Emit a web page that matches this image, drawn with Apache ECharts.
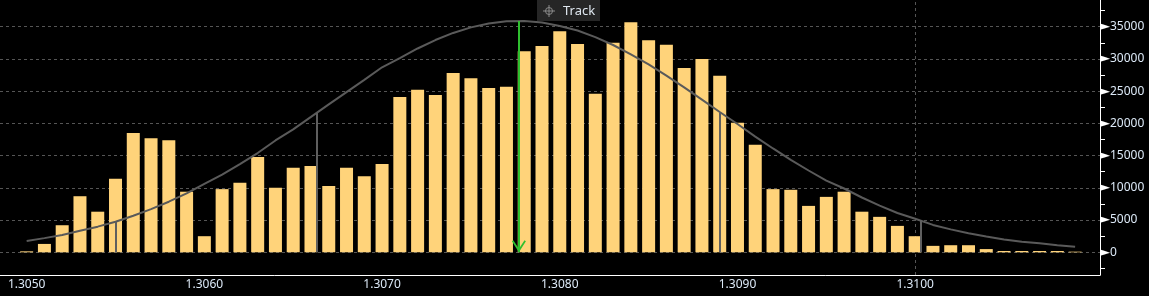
<!DOCTYPE html>
<html>
<head>
<meta charset="utf-8">
<script src="https://cdn.jsdelivr.net/npm/echarts@6/dist/echarts.min.js"></script>
<style>
html,body{margin:0;padding:0;background:#000;}
#chart{width:1149px;height:296px;}
</style>
</head>
<body>
<div id="chart"></div>
<script>
// price levels (bin centers)
var prices = [1.3050,1.3051,1.3052,1.3053,1.3054,1.3055,1.3056,1.3057,1.3058,1.3059,
              1.3060,1.3061,1.3062,1.3063,1.3064,1.3065,1.3066,1.3067,1.3068,1.3069,
              1.3070,1.3071,1.3072,1.3073,1.3074,1.3075,1.3076,1.3077,1.3078,1.3079,
              1.3080,1.3081,1.3082,1.3083,1.3084,1.3085,1.3086,1.3087,1.3088,1.3089,
              1.3090,1.3091,1.3092,1.3093,1.3094,1.3095,1.3096,1.3097,1.3098,1.3099,
              1.3100,1.3101,1.3102,1.3103,1.3104,1.3105,1.3106,1.3107,1.3108,1.3109];
// volume per price level
var volumes = [150,1300,4200,8700,6300,11400,18500,17700,17400,9400,
               2500,9800,10800,14800,10000,13100,13400,10300,13100,11800,
               13700,24100,25200,24400,27800,27000,25500,25700,31200,32000,
               34300,32300,24600,32500,35700,32900,32200,28600,30000,27400,
               20100,16700,9800,9700,7200,8600,9400,6300,5500,4100,
               2500,1000,1100,1100,500,200,200,200,200,100];
// fitted distribution curve
var curve = [1760,2200,2700,3350,3980,4750,5680,6700,7850,9130,
             10600,12040,13680,15400,17350,19080,21000,22940,24840,26750,
             28700,30110,31620,32930,34030,34890,35500,35830,35890,35660,
             35100,34400,33390,32160,30720,29140,27410,25590,23690,21770,
             19900,17950,16110,14350,12690,11120,9900,8500,7250,6100,
             5200,4250,3560,2950,2450,2000,1650,1400,1100,870];
// standard deviation markers [price, curve height]
var sigmaLines = [[1.30550,4750],[1.30663,21620],[1.30890,21600],[1.31003,5000]];
// mean marker
var meanPrice = 1.30777;
var meanTop = 35900;
// tick labels
var xTicks = [1.3050,1.3060,1.3070,1.3080,1.3090,1.3100];
var yTicks = [0,5000,10000,15000,20000,25000,30000,35000];
var yMinorTicks = [-2500,0,2500,5000,7500,10000,12500,15000,17500,20000,22500,25000,27500,30000,32500,35000,37500];

var barData = prices.map(function(p,i){return [p, volumes[i]];});
var curveData = prices.map(function(p,i){return [p, curve[i]];});

var gridLineStyle = {color:'#555555', type:[3,3], width:1};
var gridMarks = [];
yTicks.forEach(function(v){ gridMarks.push({yAxis:v, lineStyle:gridLineStyle}); });
xTicks.forEach(function(v){ gridMarks.push({xAxis:v, lineStyle:gridLineStyle}); });

var chevron = 'path://M0,0 L0.01,0 L0,0.01 Z M26,26 L25.99,26 L26,25.99 Z M6,24 L13,13 L20,24 L18.6,25 L13,16.5 L7.4,25 Z';

var overlayMarks = sigmaLines.map(function(s){
  return [{coord:[s[0],0], symbol:'none'},{coord:[s[0],s[1]], symbol:'none', lineStyle:{color:'#5f5f5f', width:2, type:'solid'}}];
});
overlayMarks.push([{coord:[meanPrice, meanTop], symbol:'none'},
                   {coord:[meanPrice, 0], symbol:chevron, symbolSize:26,
                    lineStyle:{color:'#2fbf2f', width:2, type:'solid'},
                    itemStyle:{color:'#2fbf2f'}}]);

var chart = echarts.init(document.getElementById('chart'), null, {renderer:'canvas'});
chart.setOption({
  backgroundColor:'#000000',
  animation:false,
  grid:{left:0, right:49, top:0, bottom:21, containLabel:false},
  xAxis:{
    type:'value', min:1.30485, max:1.31104,
    axisLine:{show:true, onZero:false, lineStyle:{color:'#ffffff', width:1}},
    axisTick:{show:false},
    splitLine:{show:false},
    axisLabel:{
      customValues: xTicks,
      formatter:function(v){return v.toFixed(4);},
      color:'#dce9f7', fontFamily:'Noto Sans', fontSize:12, margin:4
    }
  },
  yAxis:{
    type:'value', position:'right', min:-3520, max:39140,
    axisLine:{show:true, onZero:false, lineStyle:{color:'#ffffff', width:1}},
    axisTick:{show:true, customValues:yMinorTicks, length:5, lineStyle:{color:'#ffffff'}},
    splitLine:{show:false},
    axisLabel:{
      customValues: yTicks,
      margin:0,
      formatter:function(v){return '{t|\u25BA}{v|'+v+'}';},
      rich:{
        t:{fontFamily:'DejaVu Sans', fontSize:13, color:'#ffffff', padding:[0,0,0,0]},
        v:{fontFamily:'Noto Sans', fontSize:12, color:'#dce9f7'}
      }
    }
  },
  series:[
    {
      type:'bar', name:'Volume', data:barData, barWidth:13, z:2,
      itemStyle:{color:'#ffd37a'},
      silent:true,
      markLine:{silent:true, z:1, symbol:['none','none'], label:{show:false}, data:gridMarks}
    },
    {
      type:'line', name:'Distribution', data:curveData, z:3,
      showSymbol:false, smooth:false,
      lineStyle:{color:'#5a5a5a', width:2},
      silent:true,
      markLine:{silent:true, z:5, symbol:['none','none'], label:{show:false},
                lineStyle:{color:'#5f5f5f', width:2, type:'solid'},
                data:overlayMarks}
    }
  ],
  graphic:[
    {type:'rect', shape:{x:537, y:0, width:63, height:21}, style:{fill:'#262626'}, z:0},
    {type:'circle', shape:{cx:549, cy:11, r:3.5}, style:{fill:'none', stroke:'#8a8a8a', lineWidth:1}, z:1},
    {type:'line', shape:{x1:543, y1:11, x2:555, y2:11}, style:{stroke:'#8a8a8a', lineWidth:1}, z:1},
    {type:'line', shape:{x1:549, y1:5, x2:549, y2:17}, style:{stroke:'#8a8a8a', lineWidth:1}, z:1},
    {type:'text', x:563, y:11, style:{text:'Track', fill:'#dfe7ef', font:'13px "Noto Sans"', verticalAlign:'middle'}, z:1}
  ]
});
</script>
</body>
</html>
